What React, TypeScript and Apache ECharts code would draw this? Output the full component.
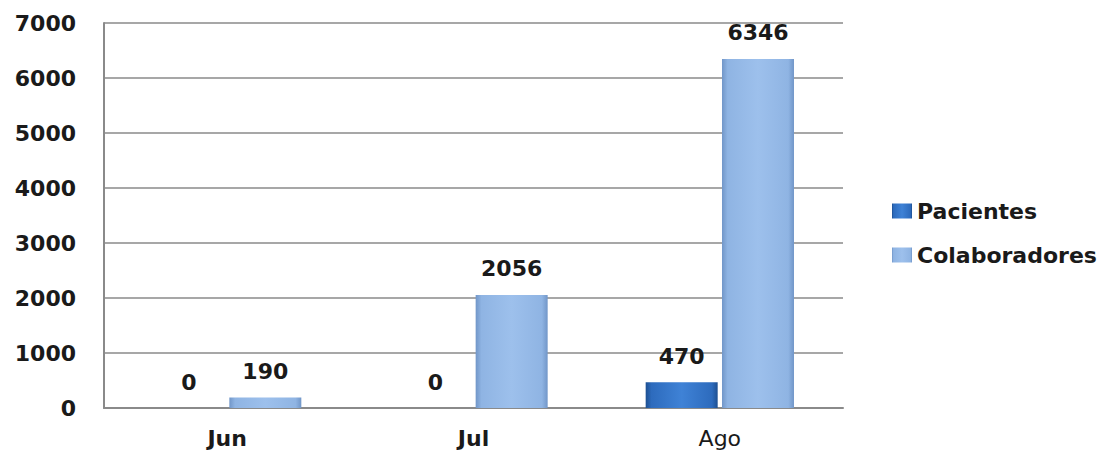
import React, { useEffect, useRef } from "react";
import * as echarts from "echarts";

const categories = ["Jun", "Jul", "Ago"];
const pacientes = [0, 0, 470];
const colaboradores = [190, 2056, 6346];
const seriesNames = ["Pacientes", "Colaboradores"];

const FONT = "'DejaVu Sans', Verdana, sans-serif";

function hGrad(edge: string, mid: string, light: string) {
  return new echarts.graphic.LinearGradient(0, 0, 1, 0, [
    { offset: 0, color: edge },
    { offset: 0.08, color: mid },
    { offset: 0.5, color: light },
    { offset: 0.92, color: mid },
    { offset: 1, color: edge },
  ]);
}

export default function App() {
  const ref = useRef<HTMLDivElement>(null);
  useEffect(() => {
    if (!ref.current) return;
    const chart = echarts.init(ref.current, undefined, { renderer: "svg" });
    const labelCfg = {
      show: true,
      position: "top" as const,
      distance: 15,
      color: "#1a1a1a",
      fontFamily: FONT,
      fontWeight: "bold" as const,
      fontSize: 22,
    };
    chart.setOption({
      animation: false,
      backgroundColor: "#ffffff",
      grid: { left: 104, right: 263, top: 23, bottom: 42 },
      legend: {
        orient: "vertical",
        left: 887,
        top: 195,
        itemWidth: 20,
        itemHeight: 15,
        itemGap: 22,
        icon: "rect",
        textStyle: {
          fontFamily: FONT,
          fontWeight: "bold",
          fontSize: 22,
          color: "#1a1a1a",
        },
        data: seriesNames,
      },
      xAxis: {
        type: "category",
        data: categories,
        axisLine: { lineStyle: { color: "#8a8a8a", width: 2 } },
        axisTick: { show: false },
        axisLabel: {
          margin: 19,
          formatter: (v: string) => (v === "Ago" ? `{r|${v}}` : `{b|${v}}`),
          rich: {
            b: { fontFamily: FONT, fontWeight: "bold", fontSize: 22, color: "#1a1a1a" },
            r: { fontFamily: FONT, fontWeight: "normal", fontSize: 22, color: "#1a1a1a" },
          },
        },
      },
      yAxis: {
        type: "value",
        min: 0,
        max: 7000,
        interval: 1000,
        axisLine: { show: true, lineStyle: { color: "#8a8a8a", width: 2 } },
        axisTick: { show: false },
        splitLine: { lineStyle: { color: "#8a8a8a", width: 1.5 } },
        axisLabel: {
          margin: 28,
          formatter: (v: number) => String(v),
          fontFamily: FONT,
          fontWeight: "bold",
          fontSize: 22,
          color: "#1a1a1a",
        },
      },
      series: [
        {
          name: seriesNames[0],
          type: "bar",
          data: pacientes,
          barWidth: 72,
          barGap: "6%",
          itemStyle: {
            color: hGrad("#1d4f91", "#2d6bbd", "#3f82d6"),
          },
          label: labelCfg,
        },
        {
          name: seriesNames[1],
          type: "bar",
          data: colaboradores,
          barWidth: 72,
          barGap: "6%",
          itemStyle: {
            color: hGrad("#7196c8", "#8fb4e3", "#9dc0ec"),
          },
          label: labelCfg,
        },
      ],
    });
    return () => chart.dispose();
  }, []);
  return (
    <div
      ref={ref}
      style={{ position: "absolute", left: 0, top: 0, width: 1106, height: 450 }}
    />
  );
}
